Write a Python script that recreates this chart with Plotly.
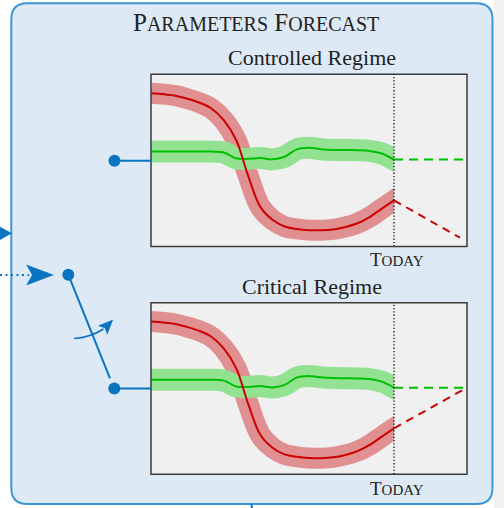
import plotly.graph_objects as go

W, H = 504, 508

# ---------------- data (time: 0..10 history, today = 10, forecast to 13) -------------
hist_t = [0, 0.5, 1, 1.5, 2, 2.5, 3, 3.5, 4, 4.5, 5, 5.5, 6, 6.5, 7, 7.5, 8, 8.5, 9, 9.5, 10]
red_hist = [89, 88.5, 87.6, 85.8, 83.5, 80.0, 73.2, 62.0, 41.0, 23.0, 15.5, 11.6, 10.2,
            9.5, 9.4, 9.9, 11.3, 13.5, 17.1, 22.0, 26.8]
green_hist = [55.1, 55.1, 55.1, 55.1, 55.1, 55.1, 54.6, 51.2, 50.9, 51.4, 50.6, 52.1, 56.4,
              57.3, 56.5, 56.1, 56.0, 55.9, 55.5, 54.0, 50.5]

today = 10
fc_t_controlled = [10, 12.71]
red_fc_controlled = [26.8, 5.1]
fc_t_critical = [10, 13]
red_fc_critical = [26.8, 50.5]
green_fc_t = [10, 13]
green_fc = [50.5, 50.5]

panel_titles = ["Controlled Regime", "Critical Regime"]
today_label = "T<span style='font-size:15px'>ODAY</span>"
main_title = ("P<span style='font-size:20px'>ARAMETERS</span> "
              "F<span style='font-size:20px'>ORECAST</span>")

# ---------------- styles -------------
RED = "#cc0000"
RED_BAND = "#e09090"
GREEN = "#00bf00"
GREEN_BAND = "#92e292"
BLUE = "#0b74c2"
BOX_LINE = "#3b95d6"
BOX_FILL = "#dee9f6"
PANEL_BG = "#f0f0f0"
PANEL_LINE = "#3c3c3c"
SERIF = "Liberation Serif, Times New Roman, serif"


def X(px):
    return px / W


def Y(py):
    return 1 - py / H


def pth(points, close=True):
    s = "M " + " L ".join(f"{X(a):.5f},{Y(b):.5f}" for a, b in points)
    return s + (" Z" if close else "")


def extend(t, v, dt=0.6):
    # prolong the last segment slightly so the band is cut vertically at "today"
    s = (v[-1] - v[-2]) / (t[-1] - t[-2])
    return list(t) + [t[-1] + dt], list(v) + [v[-1] + s * dt]


fig = go.Figure()

left, today_px, right = 151, 394, 467
panels = [(74.3, 246.5), (302.7, 474.3)]
forecasts = [(fc_t_controlled, red_fc_controlled), (fc_t_critical, red_fc_critical)]

layout_axes = {}
for i, (top, bot) in enumerate(panels):
    xh = f"x{2*i+1}" if i else "x"
    xf = f"x{2*i+2}"
    ya = f"y{i+1}" if i else "y"
    xh_name = "xaxis" if i == 0 else f"xaxis{2*i+1}"
    xf_name = f"xaxis{2*i+2}"
    ya_name = "yaxis" if i == 0 else f"yaxis{i+1}"
    layout_axes[xh_name] = dict(domain=[X(left), X(today_px)], range=[0, today],
                                anchor=ya, visible=False, fixedrange=True)
    layout_axes[xf_name] = dict(domain=[X(today_px), X(right)], range=[today, 13],
                                anchor=ya, visible=False, fixedrange=True)
    layout_axes[ya_name] = dict(domain=[Y(bot), Y(top)], range=[0, 100],
                                anchor=xh, visible=False, fixedrange=True)

    rt, rv = extend(hist_t, red_hist)
    gt, gv = extend(hist_t, green_hist)
    sm = 1.0
    fig.add_trace(go.Scatter(x=rt, y=rv, mode="lines", xaxis=xh, yaxis=ya,
                             line=dict(color=RED_BAND, width=21, shape="spline", smoothing=sm),
                             hoverinfo="skip", showlegend=False))
    fig.add_trace(go.Scatter(x=gt, y=gv, mode="lines", xaxis=xh, yaxis=ya,
                             line=dict(color=GREEN_BAND, width=22, shape="spline", smoothing=sm),
                             hoverinfo="skip", showlegend=False))
    fig.add_trace(go.Scatter(x=hist_t, y=green_hist, mode="lines", xaxis=xh, yaxis=ya,
                             line=dict(color=GREEN, width=2, shape="spline", smoothing=sm),
                             hoverinfo="skip", showlegend=False))
    fig.add_trace(go.Scatter(x=hist_t, y=red_hist, mode="lines", xaxis=xh, yaxis=ya,
                             line=dict(color=RED, width=2, shape="spline", smoothing=sm),
                             hoverinfo="skip", showlegend=False))
    fig.add_trace(go.Scatter(x=green_fc_t, y=green_fc, mode="lines", xaxis=xf, yaxis=ya,
                             line=dict(color=GREEN, width=2, dash="9px,6px"),
                             hoverinfo="skip", showlegend=False))
    ft, fv = forecasts[i]
    fig.add_trace(go.Scatter(x=ft, y=fv, mode="lines", xaxis=xf, yaxis=ya,
                             line=dict(color=RED, width=2, dash="8px,6px"),
                             hoverinfo="skip", showlegend=False))

shapes = []
shapes.append(dict(type="rect", xref="paper", yref="paper", x0=X(494), x1=1, y0=0, y1=1,
                   fillcolor="#f1f1f1", line=dict(width=0), layer="below"))
bx0, by0, bx1, by1, r = 11.3, 3.3, 492.5, 504, 16
box = (f"M {X(bx0+r)},{Y(by0)} L {X(bx1-r)},{Y(by0)} Q {X(bx1)},{Y(by0)} {X(bx1)},{Y(by0+r)} "
       f"L {X(bx1)},{Y(by1-r)} Q {X(bx1)},{Y(by1)} {X(bx1-r)},{Y(by1)} "
       f"L {X(bx0+r)},{Y(by1)} Q {X(bx0)},{Y(by1)} {X(bx0)},{Y(by1-r)} "
       f"L {X(bx0)},{Y(by0+r)} Q {X(bx0)},{Y(by0)} {X(bx0+r)},{Y(by0)} Z")
shapes.append(dict(type="path", path=box, xref="paper", yref="paper",
                   fillcolor=BOX_FILL, line=dict(color=BOX_LINE, width=2), layer="below"))

for (top, bot) in panels:
    shapes.append(dict(type="rect", xref="paper", yref="paper", x0=X(left), x1=X(right),
                       y0=Y(bot), y1=Y(top), fillcolor=PANEL_BG, line=dict(width=0),
                       layer="below"))
    shapes.append(dict(type="rect", xref="paper", yref="paper", x0=X(left), x1=X(right),
                       y0=Y(bot), y1=Y(top), line=dict(color=PANEL_LINE, width=1.5),
                       layer="above"))
    shapes.append(dict(type="line", xref="paper", yref="paper", x0=X(today_px), x1=X(today_px),
                       y0=Y(bot), y1=Y(top), line=dict(color="black", width=1.2, dash="1.3px,2px"),
                       layer="above"))


def circle(cx, cy, rad=6):
    return dict(type="circle", xref="paper", yref="paper", x0=X(cx-rad), x1=X(cx+rad),
                y0=Y(cy+rad), y1=Y(cy-rad), fillcolor=BLUE, line=dict(width=0), layer="above")


def seg(x0, y0, x1, y1, dash=None, width=2):
    ln = dict(color=BLUE, width=width)
    if dash:
        ln["dash"] = dash
    return dict(type="line", xref="paper", yref="paper", x0=X(x0), y0=Y(y0), x1=X(x1), y1=Y(y1),
                line=ln, layer="above")


def head(tipx, tipy, dx, dy, length, half, notch):
    n = (dx*dx + dy*dy) ** 0.5
    ux, uy = dx/n, dy/n
    px_, py_ = -uy, ux
    bx, by = tipx - length*ux, tipy - length*uy
    nx, ny = tipx - notch*ux, tipy - notch*uy
    pts = [(tipx, tipy), (bx + half*px_, by + half*py_), (nx, ny), (bx - half*px_, by - half*py_)]
    return dict(type="path", path=pth(pts), xref="paper", yref="paper",
                fillcolor=BLUE, line=dict(color=BLUE, width=0.5), layer="above")


shapes += [
    seg(114.5, 160.7, left, 160.7), circle(114.5, 160.7),
    seg(114.3, 388.5, left, 388.5), circle(114.3, 388.5),
    seg(68.3, 274.7, 110, 378.3), circle(68.3, 274.7),
    seg(0, 275, 29, 275, dash="2px,3.5px"),
    head(53.3, 275, 1, 0, 26.6, 10, 21),
    head(11.5, 233.3, 1, 0, 20, 11, 16),
    dict(type="path", xref="paper", yref="paper", layer="above",
         path=f"M {X(74)},{Y(338.5)} Q {X(90)},{Y(337.5)} {X(103.5)},{Y(329)}",
         line=dict(color=BLUE, width=1.6)),
    head(112.7, 320, 10.7, -11, 14, 6, 11),
    seg(251.7, 504, 251.7, 508),
]

annotations = [
    dict(text=main_title, x=X(255.5), y=Y(22.5), font=dict(size=25, family=SERIF, color="#222")),
    dict(text=panel_titles[0], x=X(312), y=Y(57.5), font=dict(size=22, family=SERIF, color="#222")),
    dict(text=panel_titles[1], x=X(312), y=Y(286), font=dict(size=22, family=SERIF, color="#222")),
    dict(text=today_label, x=X(397), y=Y(259.5), font=dict(size=19, family=SERIF, color="#222")),
    dict(text=today_label, x=X(397), y=Y(488), font=dict(size=19, family=SERIF, color="#222")),
]
for a in annotations:
    a.update(xref="paper", yref="paper", showarrow=False, xanchor="center", yanchor="middle")

fig.update_layout(width=W, height=H, margin=dict(l=0, r=0, t=0, b=0),
                  paper_bgcolor="white", plot_bgcolor="rgba(0,0,0,0)",
                  shapes=shapes, annotations=annotations, **layout_axes)

fig.write_html("out.html", config={"displayModeBar": False},
               post_script="document.body.style.margin='0';document.body.style.padding='0';"
                           "document.body.style.overflow='hidden';")
